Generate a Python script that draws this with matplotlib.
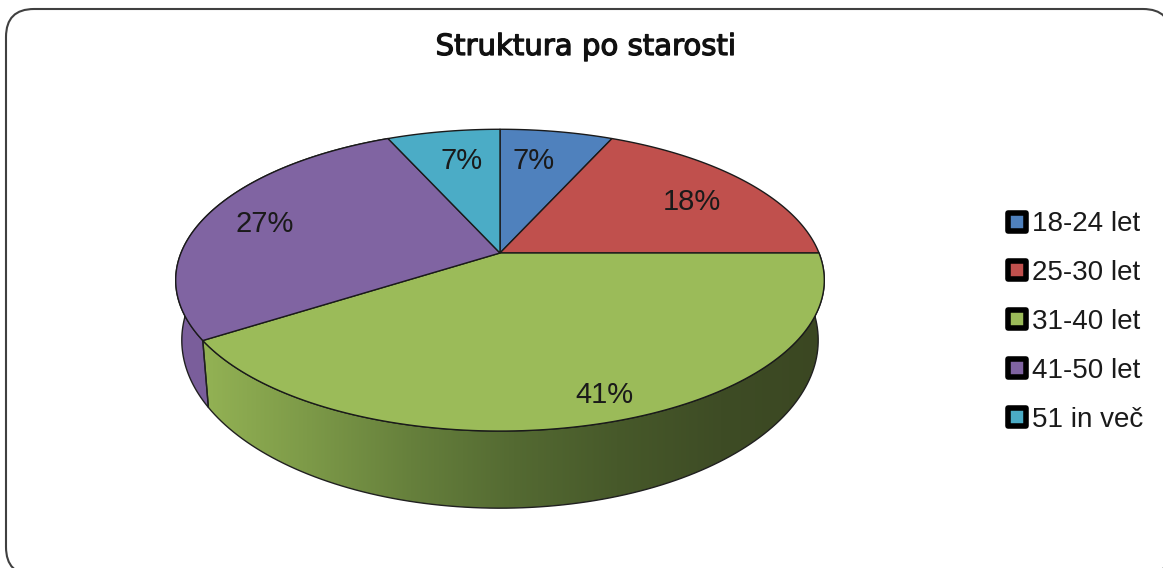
"""
Struktura po starosti: tilted 3D pie with a perspective top face
"""

import numpy as np
import matplotlib
matplotlib.use('Agg')
import matplotlib.pyplot as plt
import matplotlib.patheffects as pe
from matplotlib.lines import Line2D
from matplotlib.markers import MarkerStyle
from matplotlib.patches import FancyBboxPatch, Polygon
from matplotlib.colors import LinearSegmentedColormap

TITLE = 'Struktura po starosti'
categories = ['18-24 let', '25-30 let', '31-40 let', '41-50 let', '51 in več']
values = [6.7, 18.3, 40.9, 27.4, 6.7]
colors = ['#4F81BD', '#C0504D', '#9BBB59', '#8064A2', '#4BACC6']

# pie geometry, in picture pixels
TOP = dict(cx=500, cy=253, a=319, b=146)
BOTTOM = dict(cx=500, cy=310, a=313, b=162.5)
TILT = 0.18

# label offsets from the rim point at the middle of each slice
label_offsets = [(-23, -29), (-52, -21), (-4, 27), (56, -11), (18, -29)]

WALL_STOPS = ['#93b254', '#7d9a48', '#66803c', '#546a32', '#47592a', '#3e4c25', '#3b4722']

plt.rcParams['font.family'] = ['Liberation Sans', 'DejaVu Sans']


def rim(frac, shape, r=1.0):
    """Point on a pie face; frac runs clockwise from 12 o'clock."""
    t = 2 * np.pi * np.asarray(frac)
    w = 1 + TILT * r * np.cos(t)
    return (shape['cx'] + shape['a'] * r * np.sin(t) / w,
            shape['cy'] - shape['b'] * r * np.cos(t) / w)


def arc(f0, f1, shape):
    x, y = rim(np.linspace(f0, f1, 120), shape)
    return np.column_stack([x, y])


fig = plt.figure(figsize=(11.63, 5.68), dpi=100)
ax = fig.add_axes([0, 0, 1, 1])

# chart frame
ax.add_patch(FancyBboxPatch((6, 9), 1165, 566, boxstyle='round,pad=0,rounding_size=28',
                            fc='white', ec='#404040', lw=1.5))

edges = np.cumsum([0] + values) / sum(values)

# side walls, only the front ones show
for i, color in enumerate(colors):
    f0, f1 = edges[i], edges[i + 1]
    if f1 <= 0.25 or f0 >= 0.93:
        continue
    wall = np.vstack([arc(f0, f1, TOP), arc(f0, f1, BOTTOM)[::-1]])
    if categories[i] == '31-40 let':
        patch = Polygon(wall, fc='none', ec='#202020', lw=1.0, zorder=3)
        ax.add_patch(patch)
        cmap = LinearSegmentedColormap.from_list('wall', WALL_STOPS)
        im = ax.imshow(np.linspace(0, 1, 256)[None, :], cmap=cmap, aspect='auto',
                       extent=(wall[:, 0].min(), wall[:, 0].max(), 568, 0), zorder=2)
        im.set_clip_path(patch)
    else:
        ax.add_patch(Polygon(wall, fc='#7a5e9b', ec='#202020', lw=1.0, zorder=2))

# top faces
for i, color in enumerate(colors):
    pts = np.vstack([[TOP['cx'], TOP['cy']], arc(edges[i], edges[i + 1], TOP)])
    ax.add_patch(Polygon(pts, fc=color, ec='#1a1a1a', lw=1.0, joinstyle='round', zorder=4))

# value labels
for i, v in enumerate(values):
    mid = (edges[i] + edges[i + 1]) / 2
    ax.annotate('%d%%' % round(v), rim(mid, TOP), xytext=label_offsets[i],
                textcoords='offset pixels', ha='center', va='center', fontsize=21,
                color='#1a1a1a', zorder=5)

ax.text(586, 47, TITLE, ha='center', va='center', fontsize=21, family='DejaVu Sans',
        color='#111111', zorder=5,
        path_effects=[pe.withStroke(linewidth=0.9, foreground='#111111')])

marker = MarkerStyle('s', joinstyle='round')
handles = [Line2D([], [], ls='none', marker=marker, ms=12.5, mew=4, mfc=c, mec='black')
           for c in colors]
ax.legend(handles, categories, loc='center left', bbox_to_anchor=(1003 / 1163, 1 - 322 / 568),
          frameon=False, fontsize=20, labelspacing=0.824, handlelength=1.0, handletextpad=0.05,
          borderpad=0, borderaxespad=0, labelcolor='#1a1a1a')

ax.set_xlim(0, 1163)
ax.set_ylim(568, 0)
ax.axis('off')
fig.savefig('out.png', dpi=100)
